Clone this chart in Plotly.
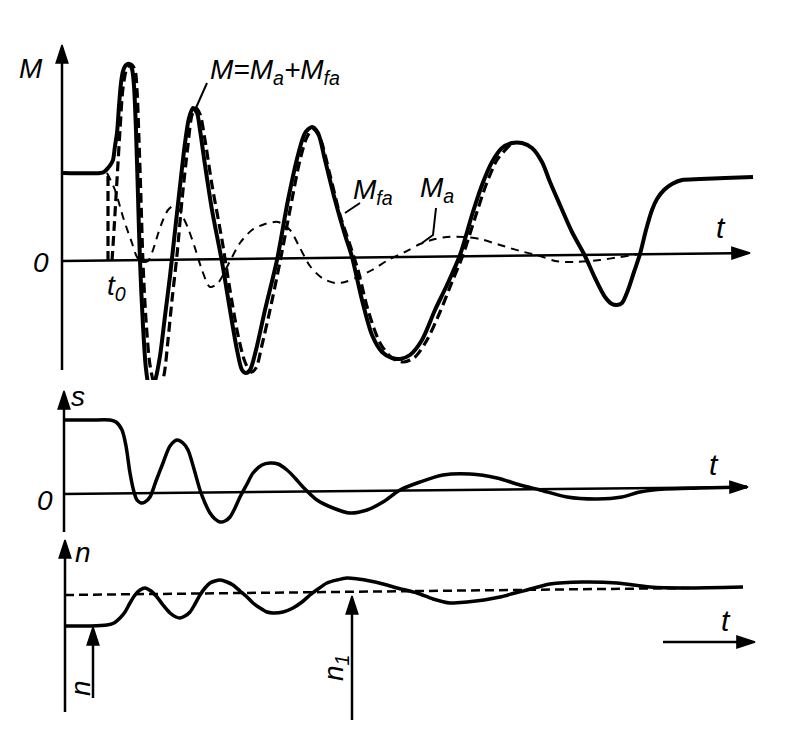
import plotly.graph_objects as go

# ---------------- data ----------------
# top panel: torque M (values relative to the zero line at the M axis)
M_t = [63,100,104,108,111,113,115,117,119,121,123,126,129,132,134,136,138,140,143,146,149,152,155,160,165,170,175,180,185,189,193,197,200,205,212,222,230,237,242,246,250,256,265,277,288,298,305,312,318,325,335,345,352,362,372,382,392,400,410,422,435,447,460,472,482,492,502,512,522,532,542,550,560,572,585,595,605,612,617,622,628,634,640,646,652,657,664,672,682,700,725,753]
M_vals = [88,88,89,93,97,101,115,128,155,178,190,196,197,192,175,130,65,0,-65,-108,-125,-127,-120,-95,-55,-15,30,75,118,143,153,148,131,96,51,-1,-49,-89,-109,-112,-109,-89,-49,1,61,106,128,134,128,101,61,26,4,-39,-74,-91,-97,-98,-94,-79,-49,-24,6,46,76,99,113,118,118,113,99,79,56,29,5,-17,-36,-43,-44,-42,-29,-11,7,31,51,62,71,77,81,82,83,84]

Mfa_t = [112,114,117,120,123,127,131,135,137,139,141,143,146,150,155,160,164,168,172,177,182,188,192,196,200,205,212,222,230,238,245,251,256,262,270,280,290,300,307,313,320,330,340,350,358,368,380,392,404,415,427,440,452,463,475,486,497,510]
Mfa_vals = [0,31,81,131,173,193,197,191,171,121,61,-2,-59,-104,-124,-126,-114,-79,-39,6,61,116,146,153,147,121,76,21,-29,-74,-101,-111,-107,-84,-49,-1,51,101,124,132,123,86,46,16,-9,-49,-82,-97,-101,-96,-79,-51,-21,6,43,76,101,116]

Ma_t = [107,111,115,119,123,127,132,136,140,144,148,153,158,163,168,173,178,183,188,195,202,210,218,228,240,252,265,278,290,300,310,322,335,345,358,372,390,405,420,435,447,465,480,500,520,540,555,575,600,620,640]
Ma_vals = [88,80,71,58,44,32,18,6,0,-1,0,11,27,41,51,55,53,44,33,13,-9,-26,-22,-4,18,31,37,39,31,13,-5,-17,-22,-21,-16,-9,2,9,17,22,24,24,22,16,10,5,0,-1,1,4,7]

t0 = 108          # switching instant
M0 = 88           # initial torque level

# middle panel: slip s
s_t = [65,90,110,116,122,126,130,134,137,141,145,150,156,163,170,177,183,188,194,200,205,210,215,220,225,230,235,240,247,253,262,270,278,287,295,303,317,333,350,367,383,400,420,443,470,497,520,540,567,597,622,640,665,700,747]
s_vals = [74,74,74,72,64,48,21,2,-6,-9,-8,-3,13,31,48,54,51,44,25,4,-9,-19,-25,-28,-27,-23,-14,-3,10,21,29,31,30,24,16,7,-6,-14,-19,-16,-8,4,12,19,20,16,9,4,-3,-5,-3,2,5,6,7]

# bottom panel: speed n (relative to the n1 level)
n_t = [65,90,107,114,120,125,130,135,140,145,151,157,163,170,176,180,185,190,195,200,205,210,215,220,227,233,240,247,253,260,267,273,283,293,302,310,318,327,337,347,358,370,383,397,417,433,450,467,484,500,515,527,550,583,617,650,683,743]
n_vals = [-31,-31,-30,-28,-23,-17,-8,0,5,7,4,-2,-10,-18,-22,-23,-21,-17,-9,0,7,12,14,15,13,10,4,-2,-8,-13,-17,-18,-17,-13,-7,0,6,12,15,17,16,14,11,7,2,-4,-8,-7,-5,-2,2,5,11,13,12,8,7,8]
n1_t = [65, 690]
n1_vals = [0, 7]

# axes (tail -> tip)
M_axis_t, M_axis_v = [62, 62], [-109, 216]
M_taxis_t, M_taxis_v = [63, 750], [0, 8]
s_axis_t, s_axis_v = [64, 64], [-38, 103]
s_taxis_t, s_taxis_v = [63, 748], [0, 7]
n_axis_t, n_axis_v = [65, 65], [-117, 55]
n_taxis_t, n_taxis_v = [663, 755], [-47, -47]
n_mark_t, n_mark_v = [93, 93], [-103, -32]
n1_mark_t, n1_mark_v = [352, 352], [-125, -1]

# label leader lines
lead_M_t, lead_M_v = [207, 195], [178, 151]
lead_Mfa_t, lead_Mfa_v = [360, 345], [58, 48]
lead_Ma_t, lead_Ma_v = [436, 433, 422], [53, 26, 18]

# ---------------- figure ----------------
K = "black"
fig = go.Figure()

def line(x, y, yax, width, dash=None, shape="spline"):
    fig.add_trace(go.Scatter(x=x, y=y, yaxis=yax, mode="lines", hoverinfo="skip",
                             line=dict(color=K, width=width, dash=dash, shape=shape, smoothing=0.8)))

def arrow(xs, ys, yax):
    fig.add_trace(go.Scatter(x=xs, y=ys, yaxis=yax, mode="lines+markers", hoverinfo="skip",
                             line=dict(color=K, width=2.5),
                             marker=dict(symbol="arrow", size=[0, 19], angleref="previous",
                                         color=K, opacity=1, line=dict(width=1.5, color=K))))

line(M_t, M_vals, "y", 4)
line(Mfa_t, Mfa_vals, "y", 3.2, "10px,5px")
line(Ma_t, Ma_vals, "y", 2, "8px,6px")
line([t0, t0], [0, M0], "y", 3.2, "10px,5px", "linear")
line(lead_M_t, lead_M_v, "y", 2, None, "linear")
line(lead_Mfa_t, lead_Mfa_v, "y", 2, None, "linear")
line(lead_Ma_t, lead_Ma_v, "y", 2, None, "linear")
line(s_t, s_vals, "y2", 3.5)
line(n_t, n_vals, "y3", 3.5)
line(n1_t, n1_vals, "y3", 2.5, "9px,5px", "linear")

arrow(M_axis_t, M_axis_v, "y")
arrow(M_taxis_t, M_taxis_v, "y")
arrow(s_axis_t, s_axis_v, "y2")
arrow(s_taxis_t, s_taxis_v, "y2")
arrow(n_axis_t, n_axis_v, "y3")
arrow(n_taxis_t, n_taxis_v, "y3")
arrow(n_mark_t, n_mark_v, "y3")
arrow(n1_mark_t, n1_mark_v, "y3")

ann = []
FONT = "Liberation Sans"
def label(x, y, text, yref, size=28, angle=0):
    ann.append(dict(x=x, y=y, xref="x", yref=yref, text=text, showarrow=False,
                    textangle=angle, xanchor="center", yanchor="middle",
                    font=dict(family=FONT, size=size, color=K)))

label(31, 193, "<i>M</i>", "y")
label(41, -1, "<i>0</i>", "y", 28)
label(116, -26, "<i>t<sub>0</sub></i>", "y", 28)
label(275, 190, "<i>M=M<sub>a</sub>+M<sub>fa</sub></i>", "y")
label(373, 70, "<i>M<sub>fa</sub></i>", "y")
label(437, 72, "<i>M<sub>a</sub></i>", "y")
label(721, 34, "<i>t</i>", "y", 30)
label(78, 98, "<i>s</i>", "y2")
label(45, -6, "<i>0</i>", "y2")
label(714, 30, "<i>t</i>", "y2", 30)
label(83, 42, "<i>n</i>", "y3")
label(81, -93, "<i>n</i>", "y3", angle=-90)
label(336, -73, "<i>n<sub>1</sub></i>", "y3", angle=-90)
label(726, -26, "<i>t</i>", "y3", 30)

# the page body has an 8px margin: the figure is sized and ranged to sit inside it
hidden = dict(visible=False, showgrid=False, zeroline=False, fixedrange=True)
fig.update_layout(
    width=780, height=715, margin=dict(l=0, r=0, t=0, b=0),
    paper_bgcolor="white", plot_bgcolor="white", showlegend=False,
    xaxis=dict(range=[8, 788], domain=[0, 1], **hidden),
    yaxis=dict(range=[-119, 253], domain=[0.47972, 1], anchor="x", **hidden),
    yaxis2=dict(range=[-42, 114], domain=[0.26154, 0.47972], anchor="x", **hidden),
    yaxis3=dict(range=[-128, 59], domain=[0, 0.26154], anchor="x", **hidden),
    annotations=ann,
)

fig.write_html("out.html")
